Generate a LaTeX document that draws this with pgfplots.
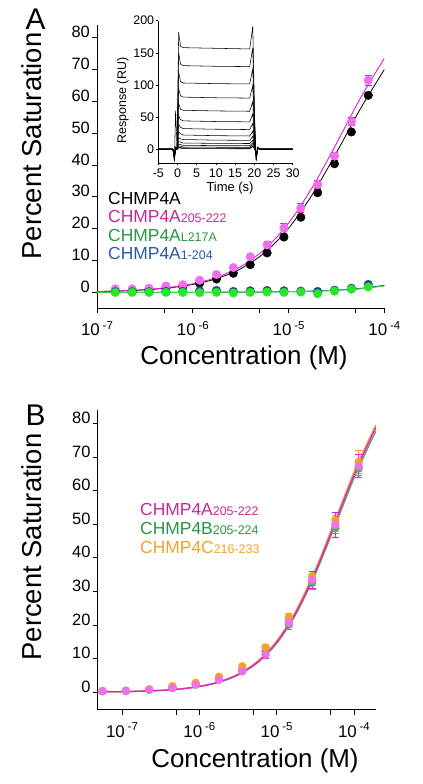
\documentclass[border=0pt]{standalone}
\usepackage{pgfplots}
\usepackage{pgfplotstable}
\usepackage{fontspec}
\setmainfont{Liberation Sans}
\pgfplotsset{compat=1.18}

\definecolor{pinkm}{RGB}{240,112,236}
\definecolor{pinkl}{RGB}{225,30,210}
\definecolor{magtext}{RGB}{200,40,150}
\definecolor{greenm}{RGB}{40,230,40}
\definecolor{greenl}{RGB}{60,215,60}
\definecolor{greentext}{RGB}{40,150,70}
\definecolor{bluem}{RGB}{30,70,150}
\definecolor{bluetext}{RGB}{40,90,165}
\definecolor{orangem}{RGB}{245,160,40}
\definecolor{greenBm}{RGB}{100,165,100}

\pgfplotstableread{
t     a    b     c     d    e    f    g    h    i    j    k    l    m    n
-5    0    0     0     0    0    0    0    0    0    0    0    0    0    0
-1.2  0    0     0     0    0    0    0    0    0    0    0    0    0    0
-0.8 -18  -17   -16   -15  -14  -13  -12  -11  -10  -10   -9   -9   -8   -8
-0.5  60   3     3     3    2    2    2    2    1    1    1    1    1    1
-0.1  0    0     0     0    0    0    0    0    0    0    0    0    0    0
0.3   182  150   120   94   71   52   38   27   18   12   8    5    3    2
0.8   160  132   105   83   62   46   34   24   16   11   7    4.5  2.5  1.5
1.5   158  130   103   81   60.5 44   32   22   15   9.5  6    3.3  1.8  0.9
10    157  129   102   80   59.5 43   31   21   14   9    5.5  3    1.5  0.7
18.8  156  128.5 101.5 79.5 59   42.5 30.5 20.5 13.7 8.8  5.3  2.9  1.4  0.6
19.6  191  158   125   99   74   55   40   28   20   14   10   7    5    4
20.1  47   39    31    24   18   13   9    6    4    3    2    1    0.5  0.2
20.5 -18  -17   -16   -15  -14  -13  -12  -11  -10  -10   -9   -9   -8   -8
20.9  3    3     3     2    2    2    2    1    1    1    1    1    1    1
21.5  0    0     0     0    0    0    0    0    0    0    0    0    0    0
30    0    0     0     0    0    0    0    0    0    0    0    0    0    0
}\sensorgram

\newcommand{\dec}[1]{10\,\raisebox{6.5bp}{\fontsize{11.5}{11.5}\selectfont -#1}}
\newcommand{\sub}[1]{{\fontsize{12.5}{12.5}\selectfont #1}}
\newcommand{\subb}[1]{{\fontsize{12.5}{12.5}\selectfont #1}}

\begin{document}
\begin{tikzpicture}[x=1bp,y=1bp]
\useasboundingbox (0,0) rectangle (422,784);

% ---------------- Panel A ----------------
\begin{axis}[
  at={(97bp,475.7bp)}, anchor=south west,
  scale only axis, width=287.3bp, height=283.3bp,
  xmode=log, xmin=1e-7, xmax=1e-4, ymin=-5, ymax=84,
  axis x line=bottom, axis y line=left,
  axis line style={-, line width=0.9pt},
  tick align=outside, major tick length=5bp, minor tick length=5bp,
  every tick/.style={black, line width=0.8pt},
  xtick={1e-7,1e-6,1e-5,1e-4},
  xticklabels={\dec{7},\dec{6},\dec{5},\dec{4}},
  minor xtick={5e-7,5e-6,5e-5},
  ytick={0,10,20,30,40,50,60,70,80},
  /pgf/number format/assume math mode=true,
  tick label style={font=\fontsize{16.5}{16.5}\selectfont},
  yticklabel style={anchor=base east, inner sep=0pt, xshift=-2bp},
  xticklabel style={anchor=north, inner sep=0pt, yshift=-8bp, font=\fontsize{17}{17}\selectfont},
]
% black
\addplot[black, line width=0.8pt, smooth] coordinates {
(1e-7,0.254)(1.778e-7,0.450)(3.162e-7,0.797)(5.623e-7,1.409)(1e-6,2.477)
(1.778e-6,4.318)(3.162e-6,7.42)(5.623e-6,12.45)(1e-5,20.13)(1.778e-5,30.79)
(3.162e-5,43.87)(5.623e-5,57.64)(1e-4,70.0)};
\addplot[only marks, mark=*, mark size=4.3, black] coordinates {
(1.553e-7,0.4)(2.329e-7,0.5)(3.494e-7,0.8)(5.241e-7,1.2)(7.861e-7,1.8)(1.179e-6,2.9)
(1.769e-6,4.2)(2.653e-6,6.0)(3.980e-6,8.7)(5.970e-6,12.4)(8.954e-6,17.4)(1.343e-5,23.6)
(2.015e-5,31.3)(3.022e-5,40.4)(4.533e-5,50.4)(6.8e-5,61.9)};
% pink
\addplot[pinkl, line width=0.9pt, smooth] coordinates {
(1e-7,0.277)(1.778e-7,0.491)(3.162e-7,0.871)(5.623e-7,1.538)(1e-6,2.70)
(1.778e-6,4.71)(3.162e-6,8.07)(5.623e-6,13.51)(1e-5,21.74)(1.778e-5,33.06)
(3.162e-5,46.76)(5.623e-5,60.97)(1e-4,73.53)};
\addplot[only marks, mark=*, mark size=4.3, draw=pinkm, fill=pinkm,
  error bars/.cd, y dir=both, y explicit, error bar style={pinkl, line width=0.8pt},
  error mark options={rotate=90, mark size=3.5, pinkl, line width=0.8pt}]
 coordinates {
(1.553e-7,1.1)(2.329e-7,1.1)(3.494e-7,1.3)(5.241e-7,2.0)(7.861e-7,2.4)(1.179e-6,3.8)
(1.769e-6,5.6)(2.653e-6,7.8)(3.980e-6,11.2) +- (0,0.8) (5.970e-6,14.9) +- (0,1.2)
(8.954e-6,20.2) +- (0,1.6) (1.343e-5,26.5) +- (0,1.4)
(2.015e-5,33.9) +- (0,1.2) (3.022e-5,42.8) +- (0,1.2) (4.533e-5,53.6) +- (0,1.3) (6.8e-5,66.6) +- (0,1.6)};
% blue
\addplot[bluem, line width=1pt, smooth] coordinates {
(1e-7,0.002)(1.778e-7,0.004)(3.162e-7,0.007)(5.623e-7,0.012)(1e-6,0.022)
(1.778e-6,0.04)(3.162e-6,0.07)(5.623e-6,0.12)(1e-5,0.22)(1.778e-5,0.40)
(3.162e-5,0.70)(5.623e-5,1.24)(1e-4,2.2)};
\addplot[only marks, mark=*, mark size=4.3, bluem] coordinates {
(1.553e-7,0.2)(2.329e-7,0.2)(3.494e-7,0.2)(5.241e-7,0.3)(7.861e-7,0.3)(1.179e-6,0.5)
(1.769e-6,0.6)(2.653e-6,0.3)(3.980e-6,0.5)(5.970e-6,0.6)(8.954e-6,0.5)(1.343e-5,0.4)
(2.015e-5,0.3)(3.022e-5,0.7)(4.533e-5,1.3)(6.8e-5,2.5)};
% green
\addplot[greenl, line width=1pt, smooth] coordinates {
(1e-7,0.002)(1.778e-7,0.004)(3.162e-7,0.006)(5.623e-7,0.011)(1e-6,0.02)
(1.778e-6,0.036)(3.162e-6,0.063)(5.623e-6,0.11)(1e-5,0.2)(1.778e-5,0.36)
(3.162e-5,0.63)(5.623e-5,1.12)(1e-4,2.0)};
\addplot[only marks, mark=*, mark size=4.3, greenm] coordinates {
(1.553e-7,0)(2.329e-7,0)(3.494e-7,0)(5.241e-7,0)(7.861e-7,0)(1.179e-6,-0.1)
(1.769e-6,0)(2.653e-6,-0.2)(3.980e-6,0)(5.970e-6,0.1)(8.954e-6,0)(1.343e-5,0.1)
(2.015e-5,-0.4)(3.022e-5,0.4)(4.533e-5,1.0)(6.8e-5,1.7)};
\end{axis}

% ---------------- Inset ----------------
\begin{axis}[
  at={(158.3bp,620.7bp)}, anchor=south west,
  scale only axis, width=134.4bp, height=142.6bp,
  xmin=-5, xmax=30, ymin=-22, ymax=200,
  axis x line=bottom, axis y line=left,
  axis line style={-, line width=0.6pt},
  tick align=outside, major tick length=2bp,
  every tick/.style={black, line width=0.5pt},
  xtick={-5,0,5,10,15,20,25,30}, ytick={0,50,100,150,200},
  /pgf/number format/assume math mode=true,
  tick label style={font=\fontsize{12.5}{12.5}\selectfont},
  yticklabel style={inner sep=0pt, xshift=-2bp},
  xticklabel style={inner sep=0pt, yshift=-3bp},
  clip=false,
]
\pgfplotsinvokeforeach{a,b,c,d,e,f,g,h,i,j,k,l,m,n}{
  \addplot[black, line width=0.55pt, no marks] table[x=t, y=#1] {\sensorgram};
}
\end{axis}
\node[rotate=90, anchor=base, font=\fontsize{12.5}{12.5}\selectfont] at (126,683.3) {Response (RU)};
\node[anchor=base, font=\fontsize{13}{13}\selectfont] at (230,592.3) {Time (s)};

% labels A
\node[anchor=base west, font=\fontsize{30}{30}\selectfont] at (22,754.7) {A};
\node[rotate=90, anchor=base, font=\fontsize{27.5}{27.5}\selectfont] at (41.5,638) {Percent Saturation};
\node[anchor=base, font=\fontsize{26}{26}\selectfont] at (244,419) {Concentration (M)};
\node[anchor=base west, inner sep=0pt, font=\fontsize{17.5}{17.5}\selectfont] at (108,579) {CHMP4A};
\node[anchor=base west, inner sep=0pt, font=\fontsize{17.5}{17.5}\selectfont, text=magtext] at (108,561.3) {CHMP4A\sub{205-222}};
\node[anchor=base west, inner sep=0pt, font=\fontsize{17.5}{17.5}\selectfont, text=greentext] at (108,542.3) {CHMP4A\sub{L217A}};
\node[anchor=base west, inner sep=0pt, font=\fontsize{17.5}{17.5}\selectfont, text=bluetext] at (108,524) {CHMP4A\sub{1-204}};

% ---------------- Panel B ----------------
\begin{axis}[
  at={(97.7bp,74.3bp)}, anchor=south west,
  scale only axis, width=278.3bp, height=299.7bp,
  xmode=log, xmin=4.85e-8, xmax=1.93e-4, ymin=-5.2, ymax=84,
  axis x line=bottom, axis y line=left,
  axis line style={-, line width=0.9pt},
  tick align=outside, major tick length=5bp, minor tick length=5bp,
  every tick/.style={black, line width=0.8pt},
  xtick={1e-7,1e-6,1e-5,1e-4},
  xticklabels={\dec{7},\dec{6},\dec{5},\dec{4}},
  minor xtick={5e-7,5e-6,5e-5},
  ytick={0,10,20,30,40,50,60,70,80},
  /pgf/number format/assume math mode=true,
  tick label style={font=\fontsize{16.5}{16.5}\selectfont},
  yticklabel style={anchor=base east, inner sep=0pt, xshift=-2bp},
  xticklabel style={anchor=north, inner sep=0pt, yshift=-8bp, font=\fontsize{17}{17}\selectfont},
]
\addplot[greenBm, line width=1.3pt, smooth] coordinates {
(4.85e-8,0.08)(5.623e-8,0.09)(1e-7,0.17)(1.778e-7,0.30)(3.162e-7,0.53)(5.623e-7,0.94)
(1e-6,1.67)(1.778e-6,2.93)(3.162e-6,5.09)(5.623e-6,8.71)(1e-5,14.5)(1.778e-5,23.2)
(3.162e-5,35.1)(5.623e-5,49.2)(1e-4,63.6)(1.778e-4,76.1)(1.93e-4,77.7)};
\addplot[orangem, line width=1.3pt, smooth] coordinates {
(4.85e-8,0.09)(5.623e-8,0.10)(1e-7,0.18)(1.778e-7,0.32)(3.162e-7,0.57)(5.623e-7,1.00)
(1e-6,1.77)(1.778e-6,3.10)(3.162e-6,5.38)(5.623e-6,9.18)(1e-5,15.25)(1.778e-5,24.3)
(3.162e-5,36.5)(5.623e-5,50.9)(1e-4,65.5)(1.778e-4,78.0)(1.93e-4,79.5)};
\addplot[pinkl, line width=1.3pt, smooth] coordinates {
(4.85e-8,0.084)(5.623e-8,0.097)(1e-7,0.173)(1.778e-7,0.307)(3.162e-7,0.545)(5.623e-7,0.964)
(1e-6,1.70)(1.778e-6,2.99)(3.162e-6,5.20)(5.623e-6,8.89)(1e-5,14.82)(1.778e-5,23.70)
(3.162e-5,35.74)(5.623e-5,50.05)(1e-4,64.58)(1.778e-4,77.17)(1.93e-4,78.73)};
\addplot[only marks, mark=*, mark size=4, draw=greenBm, fill=greenBm,
  error bars/.cd, y dir=both, y explicit, error bar style={greenBm, line width=0.8pt},
  error mark options={rotate=90, mark size=3.5, greenBm, line width=0.8pt}]
 coordinates {
(5.615e-8,0.3)(1.123e-7,0.4)(2.246e-7,0.7)(4.492e-7,1.4)(8.984e-7,2.4)(1.797e-6,4.0)
(3.594e-6,6.6)(7.188e-6,12.2) +- (0,1) (1.4375e-5,20.1) +- (0,1.5) (2.875e-5,32.5) +- (0,1.8)
(5.75e-5,48.8) +- (0,1.5) (1.15e-4,66.6) +- (0,2)};
\addplot[only marks, mark=*, mark size=4, draw=orangem, fill=orangem,
  error bars/.cd, y dir=both, y explicit, error bar style={orangem, line width=0.8pt},
  error mark options={rotate=90, mark size=3.5, orangem, line width=0.8pt}]
 coordinates {
(5.615e-8,0.4)(1.123e-7,0.5)(2.246e-7,0.9)(4.492e-7,1.8)(8.984e-7,2.8)(1.797e-6,4.6)
(3.594e-6,7.7)(7.188e-6,13.3) +- (0,1) (1.4375e-5,22.3) +- (0,1.2) (2.875e-5,34.5) +- (0,1.5)
(5.75e-5,51.2) +- (0,1.5) (1.15e-4,68.5) +- (0,3.5)};
\addplot[only marks, mark=*, mark size=4, draw=pinkm, fill=pinkm,
  error bars/.cd, y dir=both, y explicit, error bar style={pinkl, line width=0.8pt},
  error mark options={rotate=90, mark size=3.5, pinkl, line width=0.8pt}]
 coordinates {
(5.615e-8,0.3)(1.123e-7,0.3)(2.246e-7,0.7)(4.492e-7,1.2)(8.984e-7,2.2)(1.797e-6,3.7)
(3.594e-6,6.2)(7.188e-6,11.2) +- (0,1) (1.4375e-5,20.7) +- (0,1.2) (2.875e-5,33.4) +- (0,2.5)
(5.75e-5,49.8) +- (0,3.8) (1.15e-4,67.3) +- (0,3.5)};
\end{axis}

\node[anchor=base west, font=\fontsize{30}{30}\selectfont] at (22,358.3) {B};
\node[rotate=90, anchor=base, font=\fontsize{27.5}{27.5}\selectfont] at (41.5,237) {Percent Saturation};
\node[anchor=base, font=\fontsize{26}{26}\selectfont] at (255,16.7) {Concentration (M)};
\node[anchor=base west, inner sep=0pt, font=\fontsize{17.5}{17.5}\selectfont, text=magtext] at (140,268.7) {CHMP4A\subb{205-222}};
\node[anchor=base west, inner sep=0pt, font=\fontsize{17.5}{17.5}\selectfont, text=greentext] at (140,249.7) {CHMP4B\subb{205-224}};
\node[anchor=base west, inner sep=0pt, font=\fontsize{17.5}{17.5}\selectfont, text=orangem] at (140,230.7) {CHMP4C\subb{216-233}};
\end{tikzpicture}
\end{document}
